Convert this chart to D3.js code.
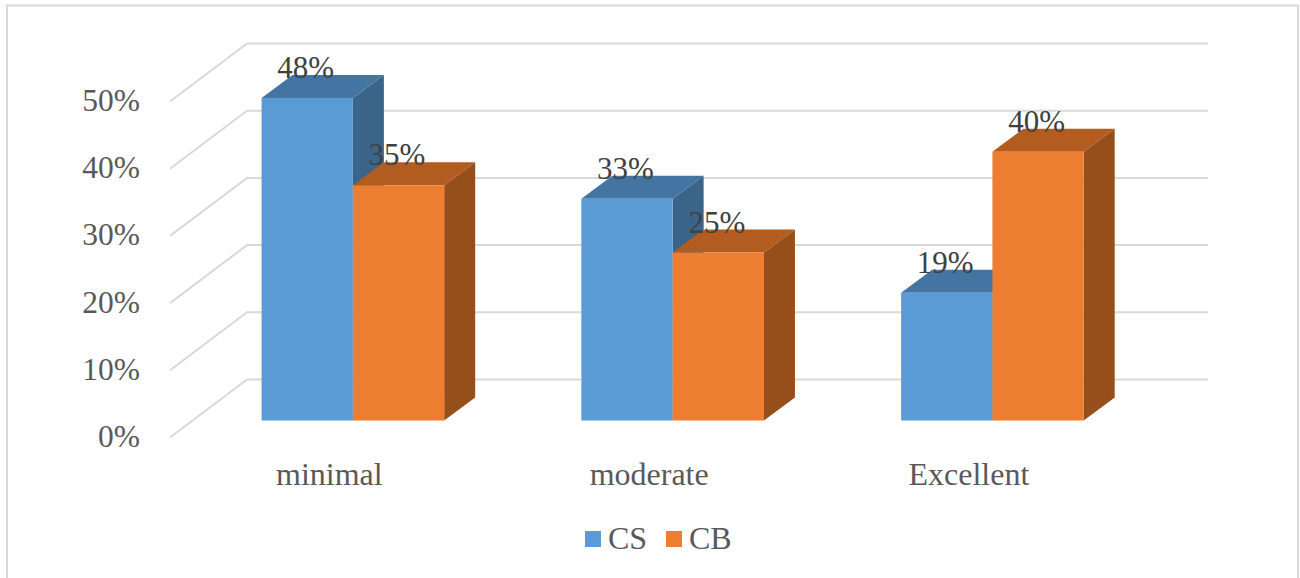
<!DOCTYPE html>
<html>
<head>
<meta charset="utf-8">
<script src="https://cdn.jsdelivr.net/npm/d3@7/dist/d3.min.js"></script>
<style>
html,body{margin:0;padding:0;background:#fff;overflow:hidden}
svg{display:block}
text{font-family:"Liberation Serif","Times New Roman",serif}
</style>
</head>
<body>
<svg id="chart" width="1300" height="578"></svg>
<script>
const categories = ["minimal", "moderate", "Excellent"];
const seriesNames = ["CS", "CB"];
const csValues = [48, 33, 19];
const cbValues = [35, 25, 40];
const tickValues = [0, 10, 20, 30, 40, 50];
const frontColors = ["#5b9bd5", "#ed7d31"];
const topColors = ["#4475a2", "#b25c20"];
const sideColors = ["#3a6589", "#964f1b"];

const svg = d3.select("#chart");

// Chart frame, open along the bottom edge
svg.append("path")
  .attr("d", "M7,578V5.5H1298V578")
  .attr("fill", "none").attr("stroke", "#d9d9d9").attr("stroke-width", 2);

// Back wall scale; the floor projects forward and to the left of it
const wallY = d3.scaleLinear().domain([0, 50]).range([379.5, 43.5]);
const wallLeft = 247, wallRight = 1208;
const floorDx = -77, floorDy = 58;

const grid = svg.append("g");
tickValues.forEach(t => {
  grid.append("path")
    .attr("d", `M${wallLeft + floorDx},${wallY(t) + floorDy}L${wallLeft},${wallY(t)}H${wallRight}`)
    .attr("fill", "none").attr("stroke", "#d9d9d9").attr("stroke-width", 2);
});

// Value axis labels sit at the front edge of the floor
const axisY = d3.scaleLinear().domain([0, 50]).range([wallY(0) + floorDy - 1, wallY(50) + floorDy - 1]);
const yAxis = svg.append("g")
  .attr("transform", "translate(147,0)")
  .call(d3.axisLeft(axisY).tickValues(tickValues).tickFormat(d => d + "%").tickSize(0).tickPadding(7));
yAxis.select(".domain").remove();
yAxis.selectAll("text")
  .attr("font-family", '"Liberation Serif"').attr("font-size", 31.5).attr("fill", "#595959");

// Bars stand part way between the wall and the front edge
const barBaseOffset = 41;
const depthDx = 31, depthDy = -23;
const barY = v => wallY(v) + barBaseOffset;

const catX = d3.scaleBand().domain(categories).range([193, 1152.3]);
const barX = d3.scaleBand().domain(seriesNames).range([0, 182.6]);
const groupPad = (catX.bandwidth() - barX.range()[1]) / 2;

const series = [csValues, cbValues];
categories.forEach((cat, ci) => {
  const g = svg.append("g");
  series.forEach((vals, si) => {
    const x0 = catX(cat) + groupPad + barX(seriesNames[si]);
    const w = barX.bandwidth();
    const top = barY(vals[ci]), base = barY(0);
    g.append("polygon").attr("fill", sideColors[si])
      .attr("points", [[x0 + w, top], [x0 + w + depthDx, top + depthDy], [x0 + w + depthDx, base + depthDy], [x0 + w, base]].join(" "));
    g.append("polygon").attr("fill", topColors[si])
      .attr("points", [[x0, top], [x0 + depthDx, top + depthDy], [x0 + w + depthDx, top + depthDy], [x0 + w, top]].join(" "));
    g.append("rect").attr("fill", frontColors[si])
      .attr("x", x0).attr("y", top).attr("width", w).attr("height", base - top);
  });
});

// Data labels above each bar
categories.forEach((cat, ci) => {
  series.forEach((vals, si) => {
    svg.append("text")
      .attr("x", catX(cat) + groupPad + barX(seriesNames[si]) + barX.bandwidth() / 2 - 1.5)
      .attr("y", barY(vals[ci]) - 20)
      .attr("text-anchor", "middle").attr("font-size", 31).attr("fill", "#404040")
      .text(vals[ci] + "%");
  });
});

// Category labels
categories.forEach(cat => {
  svg.append("text")
    .attr("x", catX(cat) + catX.bandwidth() / 2 - 23.5)
    .attr("y", 485)
    .attr("text-anchor", "middle").attr("font-size", 32).attr("fill", "#595959")
    .text(cat);
});

// Legend
const legendX = [585, 666];
seriesNames.forEach((name, i) => {
  svg.append("rect").attr("x", legendX[i]).attr("y", 531)
    .attr("width", 16).attr("height", 16).attr("fill", frontColors[i]);
  svg.append("text").attr("x", legendX[i] + 23).attr("y", 549)
    .attr("font-size", 32).attr("fill", "#595959").text(name);
});
</script>
</body>
</html>
